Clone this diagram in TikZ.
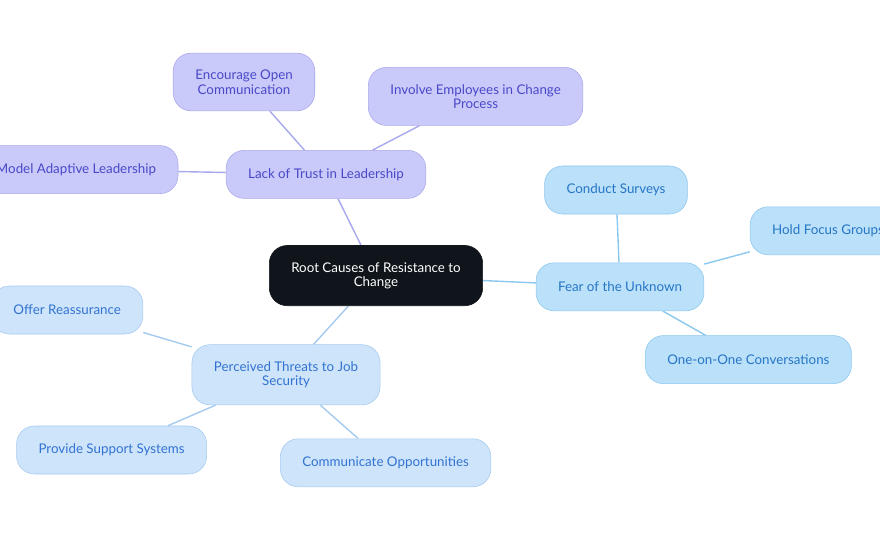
\documentclass[tikz,border=0pt]{standalone}
\usepackage{fontspec}
\setmainfont{Lato}
\usetikzlibrary{backgrounds}
\definecolor{rootfill}{RGB}{16,20,27}
\definecolor{lavfill}{RGB}{202,202,250}
\definecolor{lavline}{RGB}{168,168,236}
\definecolor{lavtext}{RGB}{72,72,200}
\definecolor{skyfill}{RGB}{186,224,250}
\definecolor{skyline}{RGB}{140,200,238}
\definecolor{skytext}{RGB}{38,118,198}
\definecolor{palefill}{RGB}{206,228,250}
\definecolor{paleline}{RGB}{165,202,240}
\definecolor{paletext}{RGB}{50,115,210}
\tikzset{
  topic/.style  = {rounded corners=0.45cm, align=center, inner xsep=0.55cm,
                   inner ysep=0.42cm, minimum height=1.2cm,
                   font=\fontsize{9.5}{10.3}\selectfont},
  rootbox/.style = {topic, fill=rootfill, draw=rootfill, text=white},
  lavbox/.style  = {topic, fill=lavfill, draw=lavline, text=lavtext},
  skybox/.style  = {topic, fill=skyfill, draw=skyline, text=skytext},
  palebox/.style = {topic, fill=palefill, draw=paleline, text=paletext},
  lavlink/.style  = {draw=lavline, line width=1pt},
  skylink/.style  = {draw=skyline, line width=1pt},
  palelink/.style = {draw=paleline, line width=1pt},
}

\begin{document}
\begin{tikzpicture}
  \useasboundingbox (0,0) rectangle (22,13.5);
  \clip (0,0) rectangle (22,13.5);
  % centre
  \node[rootbox] (root) at (9.40,6.61) {Root Causes of Resistance to\\Change};
  % trust branch
  \node[lavbox] (trust) at (8.15,9.14) {Lack of Trust in Leadership};
  \node[lavbox] (openc) at (6.10,11.45) {Encourage Open\\Communication};
  \node[lavbox] (involve) at (11.89,11.09) {Involve Employees in Change\\Process};
  \node[lavbox] (model) at (1.90,9.26) {Model Adaptive Leadership};
  % unknown branch
  \node[skybox] (fear) at (15.50,6.33) {Fear of the Unknown};
  \node[skybox] (surveys) at (15.40,8.75) {Conduct Surveys};
  \node[skybox] (focus) at (20.70,7.73) {Hold Focus Groups};
  \node[skybox] (talks) at (18.71,4.51) {One-on-One Conversations};
  % job security branch
  \node[palebox] (threats) at (7.15,4.13) {Perceived Threats to Job\\Security};
  \node[palebox] (reassure) at (1.68,5.75) {Offer Reassurance};
  \node[palebox] (support) at (2.79,2.25) {Provide Support Systems};
  \node[palebox] (chances) at (9.64,1.93) {Communicate Opportunities};
  % links
  \begin{scope}[on background layer]
    \draw[lavlink] (root) -- (trust);
    \draw[skylink] (root) -- (fear);
    \draw[palelink] (root) -- (threats);
    \foreach \t in {openc, involve, model}
      \draw[lavlink] (trust) -- (\t);
    \foreach \t in {surveys, focus, talks}
      \draw[skylink] (fear) -- (\t);
    \foreach \t in {reassure, support, chances}
      \draw[palelink] (threats) -- (\t);
  \end{scope}
\end{tikzpicture}
\end{document}
